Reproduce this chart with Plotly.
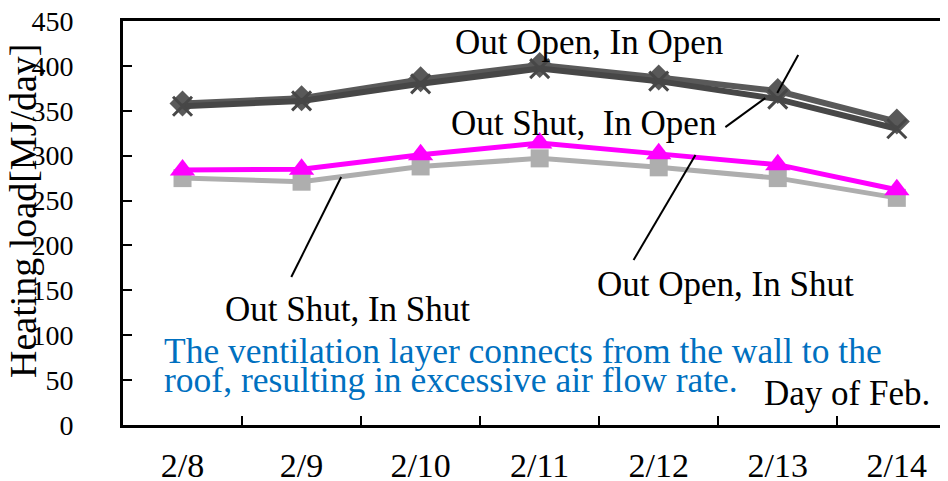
import plotly.graph_objects as go

days = ["2/8", "2/9", "2/10", "2/11", "2/12", "2/13", "2/14"]
out_shut_in_shut = [275, 271, 288, 297, 287, 275, 253]
out_open_in_shut = [284, 285, 301, 314, 302, 290, 262]
out_open_in_open = [358, 364, 385, 401, 387, 372, 338]
out_shut_in_open = [355, 361, 380, 397, 383, 363, 330]

FONT = "Liberation Serif"
DARK1 = "#595959"
DARK2 = "#474747"

fig = go.Figure()
fig.add_trace(go.Scatter(x=days, y=out_shut_in_shut, mode="lines+markers",
                         name="Out Shut, In Shut",
                         line=dict(color="#aeaeae", width=5),
                         marker=dict(symbol="square", size=18, color="#aeaeae")))
fig.add_trace(go.Scatter(x=days, y=out_open_in_shut, mode="lines+markers",
                         name="Out Open, In Shut",
                         line=dict(color="#ff00ff", width=5),
                         marker=dict(symbol="triangle-up", size=22, color="#ff00ff")))
fig.add_trace(go.Scatter(x=days, y=out_open_in_open, mode="lines+markers",
                         name="Out Open, In Open",
                         line=dict(color=DARK1, width=6),
                         marker=dict(symbol="diamond", size=20, color=DARK1)))
fig.add_trace(go.Scatter(x=days, y=out_shut_in_open, mode="lines+markers",
                         name="Out Shut, In Open",
                         line=dict(color=DARK2, width=6),
                         marker=dict(symbol="x-thin", size=19,
                                     line=dict(color=DARK2, width=3))))

# helpers: page pixel (reference picture) -> data coordinates
def px2x(px):
    return (px - 181) / 119.3

def px2y(py):
    return (425 - py) / 0.898

annots = [
    ("Out Open, In Open", 588, 42),
    ("Out Shut,  In Open", 583, 123),
    ("Out Open, In Shut", 725, 284),
    ("Out Shut, In Shut", 346, 309),
    ("Day of Feb.", 847, 393),
]
for txt, px, py in annots:
    fig.add_annotation(x=px2x(px), y=px2y(py), text=txt, showarrow=False,
                       xanchor="center", yanchor="middle",
                       font=dict(family=FONT, size=35, color="black"))

for txt, py in [("The ventilation layer connects from the wall to the", 351),
                ("roof, resulting in excessive air flow rate.", 380)]:
    fig.add_annotation(x=px2x(160), y=px2y(py), text=txt, showarrow=False,
                       xanchor="left", yanchor="middle",
                       font=dict(family=FONT, size=35.5, color="#0070c0"))

# y-axis title as rotated annotation
fig.add_annotation(xref="paper", yref="paper", x=(23 - 123) / 825, y=(425 - 211) / 404,
                   text="Heating load[MJ/day]", textangle=-90, showarrow=False,
                   xanchor="center", yanchor="middle",
                   font=dict(family=FONT, size=38, color="black"))

leaders = [((290, 277), (340, 177)),
           ((633, 260), (695, 155)),
           ((725, 127), (765, 98)),
           ((798, 55), (777, 93))]
for (x0, y0), (x1, y1) in leaders:
    fig.add_shape(type="line", x0=px2x(x0), y0=px2y(y0), x1=px2x(x1), y1=px2y(y1),
                  xref="x", yref="y", line=dict(color="black", width=2))

# page body has an 8px margin, so the figure is 940x473 offset by (8, 8)
fig.update_layout(
    width=940, height=473,
    margin=dict(l=115, r=0, t=13, b=56, autoexpand=False),
    paper_bgcolor="white", plot_bgcolor="white",
    showlegend=False,
    font=dict(family=FONT, color="black"),
)
fig.update_xaxes(type="category", range=[-0.5, 6.43], automargin=False,
                 showgrid=False, zeroline=False,
                 showline=True, linecolor="black", linewidth=3, mirror=True,
                 ticks="inside", ticklen=9, tickwidth=2, tickcolor="black",
                 tickson="boundaries",
                 tickfont=dict(family=FONT, size=34, color="black"),
                 ticklabelstandoff=8, ticklabeloverflow="allow")
fig.update_yaxes(range=[0, 450], dtick=50, automargin=False,
                 showgrid=False, zeroline=False,
                 showline=True, linecolor="black", linewidth=3,
                 ticks="inside", ticklen=9, tickwidth=2, tickcolor="black",
                 tickfont=dict(family=FONT, size=28, color="black"),
                 ticklabelstandoff=41, ticklabeloverflow="allow")

fig.write_html("out.html")
